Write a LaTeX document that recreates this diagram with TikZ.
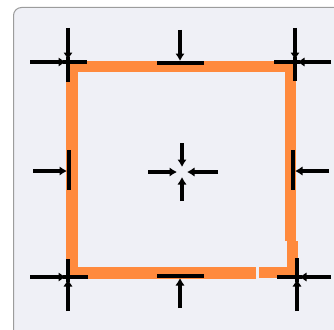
\documentclass[tikz,border=0pt]{standalone}
\usepackage{tikz}
\usetikzlibrary{arrows.meta}
\definecolor{panelbg}{HTML}{EFF0F6}
\definecolor{panelrim}{HTML}{9C9C9C}
\definecolor{shapeorange}{HTML}{FF8A3D}
\tikzset{
  >=Stealth,
  panel/.style={fill=panelbg, draw=panelrim, line width=1pt, rounded corners=8pt},
  outline/.style={fill=shapeorange},
  bar/.style={line width=3.4pt, black},
  push/.style={-{Latex[length=7.5pt,width=9.5pt]}, line width=3.2pt, black}
}
\begin{document}
\begin{tikzpicture}[x=1pt,y=-1pt]
    \useasboundingbox (0,0) rectangle (334,329);

    % Panel
    \draw[panel] (13.5,7.5) rectangle (350,345);

    % Orange outline
    \fill[outline] (66,61) rectangle (78,279);
    \fill[outline] (66,61) rectangle (296,72);
    \fill[outline] (285,61) rectangle (296,241);
    \fill[outline] (287,241) rectangle (298,279);
    \fill[outline] (66,267) rectangle (256,279);
    \fill[outline] (259,267) rectangle (298,278);

    % Handle positions
    \coordinate (tl) at (68,62);
    \coordinate (tr) at (295,62);
    \coordinate (bl) at (68,277);
    \coordinate (br) at (297,277);
    \coordinate (tm) at (180,63);
    \coordinate (bm) at (180,276);
    \coordinate (lm) at (69,171);
    \coordinate (rm) at (293,171);
    \coordinate (ct) at (182,172);

    % Corner handles
    \draw[bar] ([xshift=-5pt]tl) -- ([xshift=19pt]tl);
    \draw[bar] ([yshift=5pt]tl) -- ([yshift=-20pt]tl);
    \draw[bar] ([xshift=-21pt]tr) -- ([xshift=5pt]tr);
    \draw[bar] ([yshift=5pt]tr) -- ([yshift=-19pt]tr);
    \draw[bar] ([xshift=-5pt]bl) -- ([xshift=20pt]bl);
    \draw[bar] ([yshift=18pt]bl) -- ([yshift=-5pt]bl);
    \draw[bar] ([xshift=-20pt]br) -- ([xshift=5pt]br);
    \draw[bar] ([yshift=19pt]br) -- ([yshift=-5pt]br);

    % Edge handles
    \draw[bar] ([xshift=-23pt]tm) -- ([xshift=24pt]tm);
    \draw[bar] ([xshift=-23pt]bm) -- ([xshift=24pt]bm);
    \draw[bar] ([yshift=21pt]lm) -- ([yshift=-19pt]lm);
    \draw[bar] ([yshift=21pt]rm) -- ([yshift=-19pt]rm);

    % Inward arrows
    \coordinate (tlx) at (30,62);   \coordinate (tly) at (68,28);
    \coordinate (trx) at (331,62);  \coordinate (try) at (295,28);
    \coordinate (blx) at (30,277);  \coordinate (bly) at (68,311);
    \coordinate (brx) at (331,277); \coordinate (bry) at (297,311);
    \coordinate (tma) at (180,30);  \coordinate (bma) at (180,308);
    \coordinate (lma) at (33,171);  \coordinate (rma) at (329,171);
    \draw[push] (tlx) -- ([xshift=-2pt]tl);
    \draw[push] (tly) -- ([yshift=2pt]tl);
    \draw[push] (trx) -- ([xshift=2pt]tr);
    \draw[push] (try) -- ([yshift=2pt]tr);
    \draw[push] (blx) -- ([xshift=-2pt]bl);
    \draw[push] (bly) -- ([yshift=-2pt]bl);
    \draw[push] (brx) -- ([xshift=2pt]br);
    \draw[push] (bry) -- ([yshift=-2pt]br);
    \draw[push] (tma) -- ([yshift=2pt]tm);
    \draw[push] (bma) -- ([yshift=-2pt]bm);
    \draw[push] (lma) -- ([xshift=-2pt]lm);
    \draw[push] (rma) -- ([xshift=2pt]rm);

    % Centre cross
    \coordinate (cta) at (182,143); \coordinate (ctb) at (182,201);
    \coordinate (ctl) at (148,172); \coordinate (ctr) at (218,172);
    \draw[push] (cta) -- ([yshift=5pt]ct);
    \draw[push] (ctb) -- ([yshift=-5pt]ct);
    \draw[push] (ctl) -- ([xshift=-5pt]ct);
    \draw[push] (ctr) -- ([xshift=5pt]ct);

\end{tikzpicture}
\end{document}
